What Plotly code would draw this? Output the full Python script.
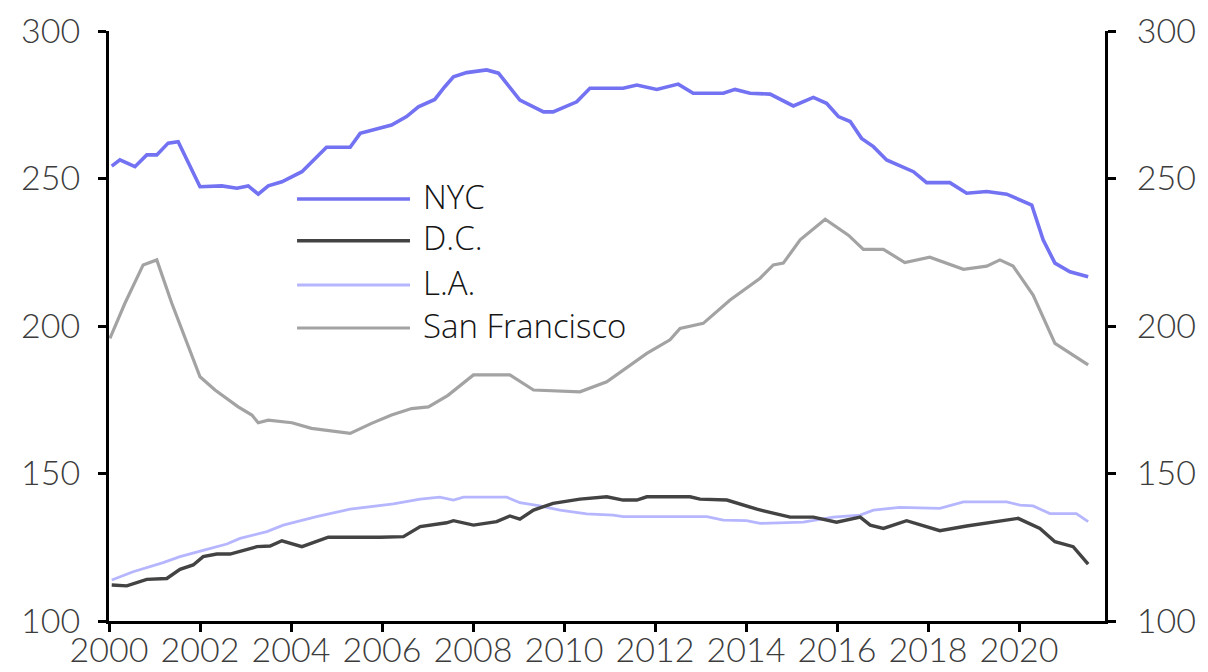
import plotly.graph_objects as go

# ---- data (decimal years, index values) ----
nyc_x = [2000.06, 2000.24, 2000.57, 2000.83, 2001.05, 2001.30, 2001.52, 2002.00, 2002.48, 2002.81,
         2003.06, 2003.28, 2003.50, 2003.80, 2004.24, 2004.78, 2005.30, 2005.52, 2006.21, 2006.54,
         2006.80, 2007.16, 2007.38, 2007.57, 2007.86, 2008.30, 2008.56, 2009.03, 2009.55, 2009.76,
         2010.28, 2010.57, 2011.30, 2011.60, 2012.04, 2012.51, 2012.84, 2013.50, 2013.76, 2014.09,
         2014.53, 2015.04, 2015.48, 2015.77, 2016.03, 2016.29, 2016.54, 2016.80, 2017.09, 2017.68,
         2017.97, 2018.48, 2018.85, 2019.29, 2019.73, 2020.28, 2020.53, 2020.79, 2021.12, 2021.52]
nyc_y = [254.2, 256.3, 254.0, 258.0, 258.0, 262.0, 262.5, 247.2, 247.5, 246.7,
         247.5, 244.7, 247.5, 248.9, 252.3, 260.6, 260.6, 265.3, 268.1, 271.0,
         274.3, 276.8, 281.1, 284.5, 285.9, 286.8, 285.7, 276.6, 272.6, 272.6,
         276.0, 280.6, 280.6, 281.7, 280.2, 282.0, 278.9, 278.9, 280.2, 278.9,
         278.6, 274.6, 277.5, 275.5, 271.0, 269.3, 263.6, 260.8, 256.3, 252.3,
         248.6, 248.6, 245.0, 245.6, 244.7, 241.0, 229.2, 221.3, 218.4, 216.7]

dc_x = [2000.06, 2000.39, 2000.83, 2001.27, 2001.56, 2001.85, 2002.07, 2002.37, 2002.66, 2003.25,
        2003.54, 2003.80, 2004.24, 2004.82, 2005.96, 2006.47, 2006.84, 2007.42, 2007.57, 2008.01,
        2008.52, 2008.81, 2009.03, 2009.33, 2009.76, 2010.35, 2010.94, 2011.30, 2011.60, 2011.82,
        2012.77, 2012.99, 2013.58, 2014.24, 2014.97, 2015.48, 2015.99, 2016.51, 2016.73, 2017.02,
        2017.53, 2018.26, 2018.85, 2019.58, 2019.98, 2020.46, 2020.79, 2021.19, 2021.52]
dc_y = [112.2, 111.9, 114.1, 114.4, 117.5, 119.0, 121.8, 122.7, 122.7, 125.2,
        125.4, 127.2, 125.2, 128.4, 128.4, 128.6, 132.0, 133.3, 134.0, 132.5,
        133.7, 135.6, 134.5, 137.6, 139.9, 141.3, 142.1, 141.0, 141.0, 142.1,
        142.1, 141.3, 141.0, 137.9, 135.2, 135.2, 133.5, 135.2, 132.5, 131.4,
        134.0, 130.6, 132.2, 133.7, 134.8, 131.4, 126.9, 125.2, 119.3]

la_x = [2000.06, 2000.53, 2001.19, 2001.56, 2002.15, 2002.59, 2002.88, 2003.47, 2003.83, 2004.56,
        2005.30, 2006.25, 2006.84, 2007.27, 2007.57, 2007.79, 2008.74, 2009.03, 2009.47, 2009.91,
        2010.50, 2011.08, 2011.30, 2013.14, 2013.50, 2014.01, 2014.31, 2015.26, 2015.92, 2016.51,
        2016.80, 2017.38, 2018.26, 2018.78, 2019.73, 2020.02, 2020.31, 2020.68, 2021.26, 2021.52]
la_y = [113.9, 116.7, 119.8, 121.8, 124.3, 126.1, 128.0, 130.3, 132.5, 135.4,
        137.9, 139.7, 141.3, 142.0, 141.0, 142.0, 142.0, 140.1, 139.0, 137.6,
        136.3, 135.9, 135.4, 135.4, 134.2, 134.0, 133.1, 133.5, 135.2, 135.9,
        137.6, 138.5, 138.2, 140.4, 140.4, 139.3, 139.0, 136.4, 136.4, 133.7]

sf_x = [2000.02, 2000.35, 2000.75, 2001.05, 2001.38, 2001.71, 2002.00, 2002.33, 2002.84, 2003.14,
        2003.28, 2003.50, 2004.02, 2004.45, 2004.97, 2005.30, 2005.77, 2006.21, 2006.65, 2007.02,
        2007.45, 2008.01, 2008.81, 2009.33, 2010.35, 2010.94, 2011.82, 2012.33, 2012.55, 2013.06,
        2013.65, 2014.31, 2014.60, 2014.82, 2015.19, 2015.74, 2016.25, 2016.58, 2017.02, 2017.49,
        2018.04, 2018.78, 2019.29, 2019.58, 2019.87, 2020.31, 2020.79, 2021.52]
sf_y = [195.8, 207.7, 220.7, 222.4, 207.7, 194.1, 182.8, 178.3, 172.6, 169.8,
        167.2, 168.1, 167.2, 165.3, 164.2, 163.6, 167.0, 169.8, 172.0, 172.6,
        176.5, 183.4, 183.4, 178.3, 177.7, 181.1, 190.7, 195.3, 199.2, 200.9,
        208.8, 216.2, 220.7, 221.3, 229.2, 236.2, 230.8, 226.0, 226.0, 221.5,
        223.3, 219.2, 220.3, 222.4, 220.3, 210.5, 194.1, 186.8]

series_names = ["NYC", "D.C.", "L.A.", "San Francisco"]
series_colors = ["#7272f2", "#434343", "#b6b6ff", "#a3a3a3"]
series_widths = [3.6, 3.4, 2.8, 3.2]

y_ticks = [100, 150, 200, 250, 300]
x_ticks = [2000, 2002, 2004, 2006, 2008, 2010, 2012, 2014, 2016, 2018, 2020]

TICK_FONT = "Lato"
LEG_FONT = "Open Sans"
TICK_COLOR = "#3c3c3c"

fig = go.Figure()
data = [(nyc_x, nyc_y), (dc_x, dc_y), (la_x, la_y), (sf_x, sf_y)]
# draw back to front: SF, LA, DC, NYC
order = [3, 2, 1, 0]
for i in order:
    xs, ys = data[i]
    fig.add_trace(go.Scatter(
        x=xs, y=ys, mode="lines", name=series_names[i],
        line=dict(color=series_colors[i], width=series_widths[i]),
        yaxis="y2" if i == 1 else "y",
        showlegend=False,
    ))

# custom legend (long line samples, as in the reference)
leg_x0, leg_x1, leg_tx = 0.1888, 0.3022, 0.3133
leg_ys = [0.7153, 0.6446, 0.5695, 0.4966]
for i, name in enumerate(series_names):
    fig.add_shape(type="line", xref="paper", yref="paper",
                  x0=leg_x0, x1=leg_x1, y0=leg_ys[i], y1=leg_ys[i],
                  line=dict(color=series_colors[i], width=series_widths[i]))
    fig.add_annotation(xref="paper", yref="paper", x=leg_tx, y=leg_ys[i] + 0.005,
                       text=name, showarrow=False, xanchor="left", yanchor="middle",
                       font=dict(family=LEG_FONT, size=33, color="#151515", weight=300))

axis_common = dict(
    showline=True, linecolor="black", linewidth=3,
    ticks="outside", ticklen=8, tickwidth=3, tickcolor="black",
    showgrid=False, zeroline=False, automargin=False,
    tickfont=dict(family=TICK_FONT, size=34, color=TICK_COLOR, weight=300),
)

fig.update_layout(
    width=1208, height=672,
    margin=dict(l=109, r=103, t=31, b=51),
    paper_bgcolor="white", plot_bgcolor="white",
    xaxis=dict(range=[2000, 2021.89], tickvals=x_ticks, ticktext=[str(v) for v in x_ticks],
               ticklabelstandoff=-11, **axis_common),
    yaxis=dict(range=[100, 300], tickvals=y_ticks, side="left", ticklabelstandoff=11, **axis_common),
    yaxis2=dict(range=[100, 300], tickvals=y_ticks, side="right", overlaying="y",
                anchor="x", ticklabelstandoff=14, **axis_common),
)

# remove the default 8px page margin so the 1208x672 figure fills the window exactly
fig.write_html(
    "out.html",
    config={"displayModeBar": False},
    post_script="document.body.style.margin='0';document.body.style.overflow='hidden';",
)
